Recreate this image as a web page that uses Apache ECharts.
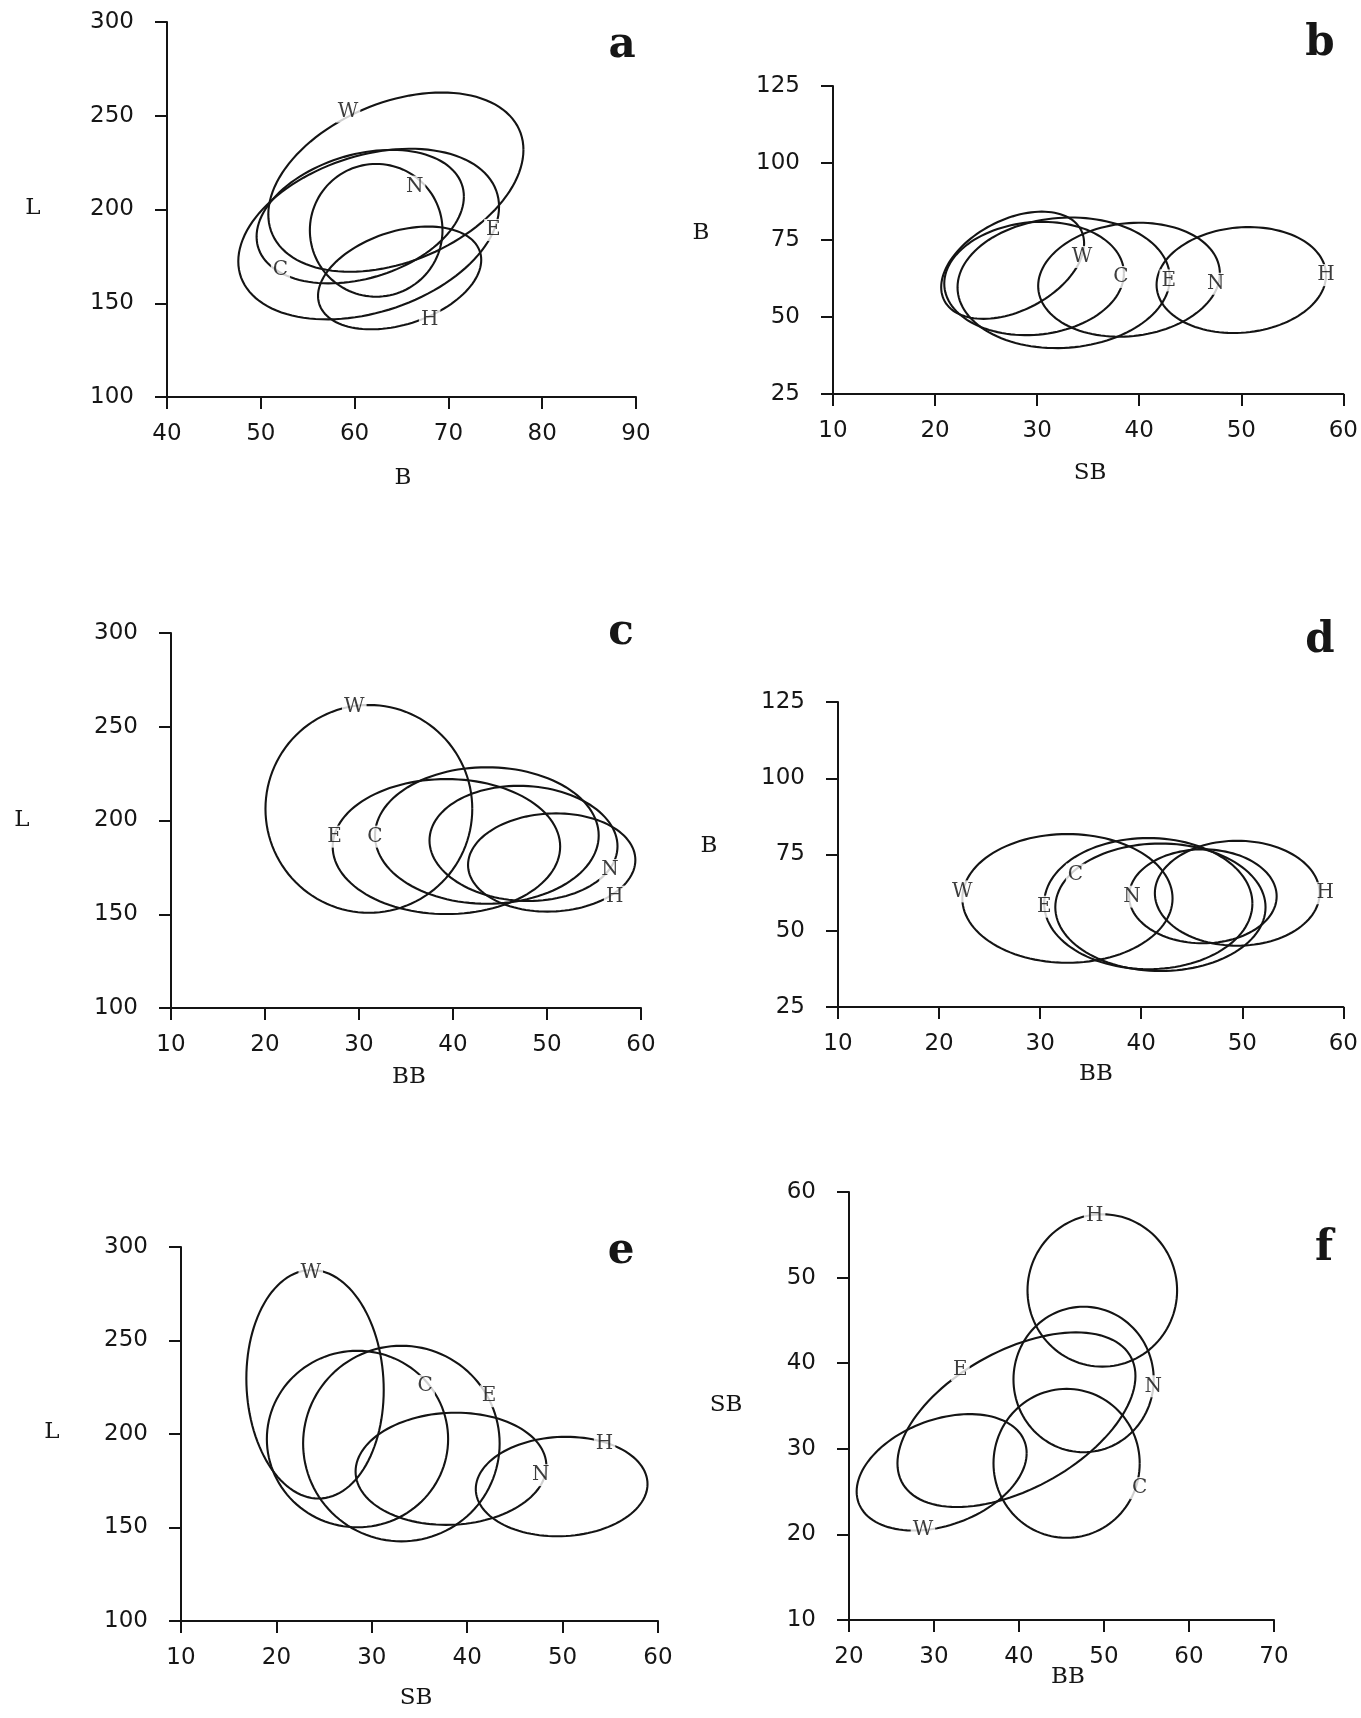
<!DOCTYPE html>
<html>
<head>
<meta charset="utf-8">
<script src="https://cdn.jsdelivr.net/npm/echarts@6/dist/echarts.min.js"></script>
<style>
  body { margin: 0; background: #fff; }
  #chart { width: 1361px; height: 1718px; }
</style>
</head>
<body>
<div id="chart"></div>
<script>
const groups = ['W', 'C', 'E', 'N', 'H']

// ellipse rows, same order as groups: [centre x, centre y, half width, half height, tilt]
const ellA = [[64.4, 214.6, 13.6, 47.8, 0.36], [60.6, 196.2, 11.05, 35.6, 0.30], [61.5, 186.9, 13.9, 45.5, 0.32], [62.3, 188.9, 7.07, 35.4, 0.0], [64.8, 163.5, 8.7, 27.4, 0.35]]
const ellB = [[27.6, 66.8, 7.0, 17.4, 0.41], [29.7, 62.5, 8.8, 18.4, 0.09], [32.6, 61.1, 10.4, 21.2, 0.07], [39.0, 62.1, 8.9, 18.5, 0.11], [50.0, 62.0, 8.3, 17.2, 0.09]]
const ellC = [[31.05, 206.2, 11.0, 55.4, 0.0], [43.6, 192.0, 11.9, 36.4, 0.0], [39.3, 186.1, 12.1, 36.0, 0.0], [47.5, 187.8, 10.0, 30.7, -0.05], [50.5, 177.6, 8.9, 26.2, 0.05]]
const ellD = [[32.7, 60.6, 10.4, 21.1, 0.0], [41.9, 57.7, 10.4, 20.9, 0.0], [40.7, 58.9, 10.3, 21.5, 0.0], [46.1, 61.3, 7.3, 15.4, 0.0], [49.5, 62.3, 8.15, 17.2, 0.0]]
const ellE = [[24.05, 226.6, 7.2, 61.1, -0.05], [28.5, 197.3, 9.5, 47.2, 0.0], [33.1, 194.9, 10.3, 52.3, 0.0], [38.3, 181.4, 10.0, 30.0, 0.05], [49.9, 171.9, 9.0, 26.6, 0.05]]
const ellF = [[30.9, 27.25, 10.0, 6.8, 0.33], [45.6, 28.3, 8.6, 8.7, 0.0], [39.7, 33.4, 14.0, 10.2, 0.5], [47.6, 38.1, 8.25, 8.5, 0.0], [49.8, 48.5, 8.8, 8.9, 0.0]]

// where each group letter sits on its ellipse
const labA = [[59.3, 252.2], [52.1, 167.7], [74.8, 189.1], [66.4, 212.2], [68.0, 141.1]]
const labB = [[34.4, 69.5], [38.2, 63.0], [42.9, 61.9], [47.5, 60.8], [58.3, 63.6]]
const labC = [[29.5, 260.7], [31.7, 191.4], [27.4, 191.4], [56.7, 173.6], [57.2, 159.4]]
const labD = [[22.3, 62.9], [33.5, 68.4], [30.4, 57.9], [39.1, 61.2], [58.2, 62.3]]
const labE = [[23.6, 286.2], [35.6, 225.7], [42.3, 220.2], [47.7, 178.0], [54.4, 194.5]]
const labF = [[28.7, 20.5], [54.2, 25.4], [33.1, 39.2], [55.8, 37.3], [48.9, 57.2]]

// axis ranges: [min, max, step]
const rangeL = [100, 300, 50]
const rangeB = [25, 125, 25]
const rangeBx = [40, 90, 10]
const rangeSB = [10, 60, 10]
const rangeBB = [10, 60, 10]
const rangeSBy = [10, 60, 10]
const rangeBBf = [20, 70, 10]

const panels = [
  { tag: 'a', ell: ellA, lab: labA, x: rangeBx, y: rangeL, box: [167, 22, 469, 375], xName: ['B', 403, 478], yName: ['L', 33, 208], tagPos: [622, 46] },
  { tag: 'b', ell: ellB, lab: labB, x: rangeSB, y: rangeB, box: [833, 86, 512, 308], xName: ['SB', 1090, 473], yName: ['B', 701, 233], tagPos: [1320, 44] },
  { tag: 'c', ell: ellC, lab: labC, x: rangeBB, y: rangeL, box: [171, 633, 470, 375], xName: ['BB', 409, 1077], yName: ['L', 22, 820], tagPos: [621, 633] },
  { tag: 'd', ell: ellD, lab: labD, x: rangeBB, y: rangeB, box: [838, 702, 515, 305], xName: ['BB', 1096, 1074], yName: ['B', 709, 846], tagPos: [1320, 641] },
  { tag: 'e', ell: ellE, lab: labE, x: rangeSB, y: rangeL, box: [181, 1247, 477, 374], xName: ['SB', 416, 1698], yName: ['L', 52, 1432], tagPos: [621, 1252] },
  { tag: 'f', ell: ellF, lab: labF, x: rangeBBf, y: rangeSBy, box: [849, 1192, 425, 428], xName: ['BB', 1068, 1677], yName: ['SB', 726, 1405], tagPos: [1324, 1249] }
]

const ink = '#141414'

function drawEllipse(params, api) {
  const cx = api.value(0), cy = api.value(1), ax = api.value(2), by = api.value(3)
  const d = Math.acos(api.value(4))
  const pts = []
  for (let i = 0; i <= 120; i++) {
    const t = i / 120 * Math.PI * 2
    pts.push(api.coord([cx + ax * Math.cos(t), cy + by * Math.cos(t - d)]))
  }
  return {
    type: 'polyline',
    shape: { points: pts },
    style: { stroke: ink, lineWidth: 2.1, fill: null }
  }
}

function makeAxis(i, r, isY) {
  return {
    gridIndex: i,
    type: 'value',
    min: r[0],
    max: r[1],
    interval: r[2],
    axisLine: { show: true, onZero: false, lineStyle: { color: ink, width: 2 } },
    axisTick: { show: true, length: 12, lineStyle: { color: ink, width: 2 } },
    axisLabel: { color: '#161616', fontFamily: 'DejaVu Sans', fontSize: 23, margin: isY ? 33 : 26 },
    splitLine: { show: false }
  }
}

function text(str, x, y, font) {
  return {
    type: 'text', x: x, y: y, silent: true,
    style: { text: str, font: font, fill: '#161616', align: 'center', verticalAlign: 'middle', textAlign: 'center', textVerticalAlign: 'middle' }
  }
}

const grids = [], xAxes = [], yAxes = [], series = [], graphics = []
panels.forEach((p, i) => {
  grids.push({ left: p.box[0], top: p.box[1], width: p.box[2], height: p.box[3] })
  xAxes.push(makeAxis(i, p.x, false))
  yAxes.push(makeAxis(i, p.y, true))
  series.push({
    type: 'custom',
    xAxisIndex: i,
    yAxisIndex: i,
    renderItem: drawEllipse,
    encode: { x: 0, y: 1 },
    data: p.ell,
    silent: true,
    z: 2
  })
  series.push({
    type: 'scatter',
    xAxisIndex: i,
    yAxisIndex: i,
    symbolSize: 1,
    itemStyle: { color: 'rgba(0,0,0,0)' },
    data: p.lab.map((v, k) => ({ name: groups[k], value: v })),
    label: {
      show: true,
      position: 'inside',
      formatter: '{b}',
      fontFamily: 'DejaVu Serif',
      fontSize: 20,
      color: '#0d0d0d',
      backgroundColor: '#fff',
      padding: [1, 2]
    },
    silent: true,
    z: 3
  })
  graphics.push(text(p.xName[0], p.xName[1], p.xName[2], '23px "DejaVu Serif"'))
  graphics.push(text(p.yName[0], p.yName[1], p.yName[2], '23px "DejaVu Serif"'))
  graphics.push(text(p.tag, p.tagPos[0], p.tagPos[1], '900 42px "DejaVu Serif"'))
})

const chart = echarts.init(document.getElementById('chart'))
chart.setOption({
  backgroundColor: '#fff',
  animation: false,
  grid: grids,
  xAxis: xAxes,
  yAxis: yAxes,
  series: series,
  graphic: graphics
})
</script>
</body>
</html>
